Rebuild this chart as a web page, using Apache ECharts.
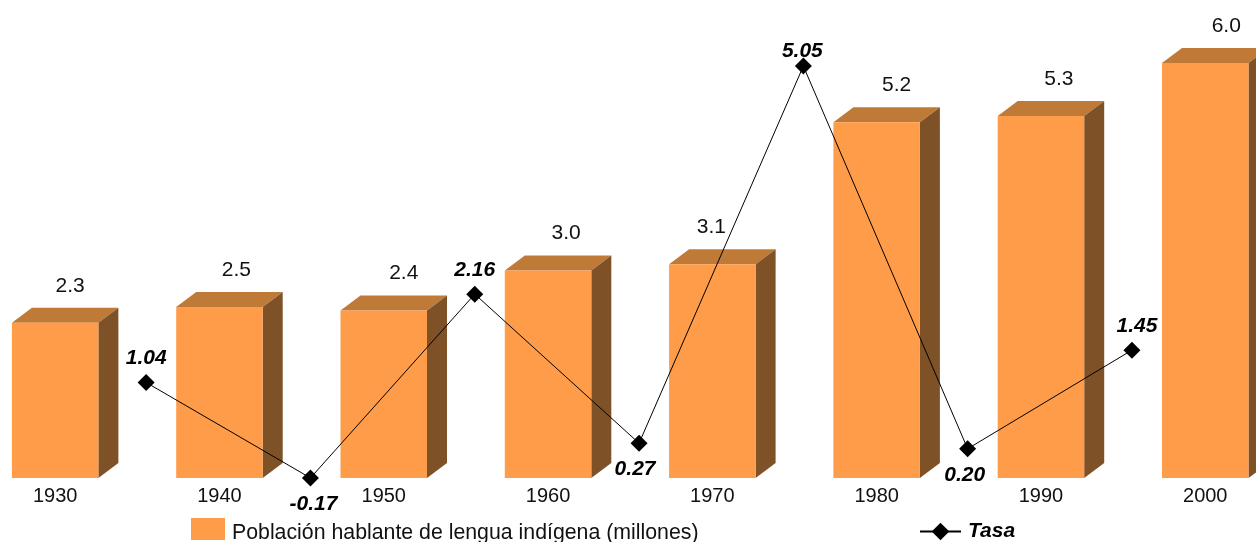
<!DOCTYPE html>
<html>
<head>
<meta charset="utf-8">
<title>Población hablante de lengua indígena</title>
<script src="https://cdn.jsdelivr.net/npm/echarts@6/dist/echarts.min.js"></script>
<style>
  html, body { margin: 0; padding: 0; background: #fff; }
  #chart { width: 1256px; height: 542px; }
</style>
</head>
<body>
<div id="chart"></div>
<script>
var years = ['1930', '1940', '1950', '1960', '1970', '1980', '1990', '2000'];
var poblacion = [2.26, 2.49, 2.44, 3.02, 3.11, 5.18, 5.27, 6.04];
var periodos = ['1930-40', '1940-50', '1950-60', '1960-70', '1970-80', '1980-90', '1990-00'];
var tasa = [1.04, -0.17, 2.16, 0.27, 5.05, 0.20, 1.45];

var fontFamily = '"Liberation Sans", Arial, sans-serif';
var nombreBarras = 'Población hablante de lengua indígena (millones)';
var nombreLinea = 'Tasa';

// ajustes de etiquetas, colocadas a mano en el original
var barLabelShift = [15, 17, 20, 18, -1, 20, 18, 21];
var tasaLabelShift = [0, 3, 0, -4, -1, -3, 5];

// barra con cara frontal, tapa y lateral
function renderBar(params, api) {
  var base = api.coord([api.value(0), 0]);
  var top = api.coord([api.value(0), api.value(1)]);
  var w = 86.5;
  var dx = 20, dy = 15;
  var x0 = base[0] - w / 2;
  var x1 = base[0] + w / 2;
  var yb = base[1];
  var yt = top[1];
  return {
    type: 'group',
    children: [
      {
        type: 'polygon',
        shape: { points: [[x0, yt], [x1, yt], [x1 + dx, yt - dy], [x0 + dx, yt - dy]] },
        style: { fill: '#BF7A38' }
      },
      {
        type: 'polygon',
        shape: { points: [[x1, yb], [x1, yt], [x1 + dx, yt - dy], [x1 + dx, yb - dy]] },
        style: { fill: '#7F5127' }
      },
      {
        type: 'rect',
        shape: { x: x0, y: yt, width: w, height: yb - yt },
        style: { fill: '#FF9C4A' }
      },
      {
        type: 'text',
        style: {
          x: base[0] + barLabelShift[params.dataIndex],
          y: yt - 37,
          text: api.value(1).toFixed(1),
          fill: '#111',
          font: '21px ' + fontFamily,
          align: 'center',
          verticalAlign: 'middle'
        }
      }
    ]
  };
}

var chart = echarts.init(document.getElementById('chart'), null, { renderer: 'canvas' });

chart.setOption({
  animation: false,
  backgroundColor: '#fff',
  grid: [
    { left: -27, width: 1314.4, top: 4, height: 474, outerBoundsMode: 'none' },
    { left: 64, width: 1150.1, top: 30.6, height: 473.4, outerBoundsMode: 'none' }
  ],
  xAxis: [
    {
      type: 'category',
      gridIndex: 0,
      data: years,
      axisLine: { show: false },
      axisTick: { show: false },
      axisLabel: { color: '#111', fontSize: 20, fontFamily: fontFamily, margin: 8, interval: 0 }
    },
    {
      type: 'category',
      gridIndex: 1,
      data: periodos,
      show: false
    }
  ],
  yAxis: [
    { type: 'value', gridIndex: 0, min: 0, max: 6.9, show: false },
    { type: 'value', gridIndex: 1, min: -0.5, max: 5.5, show: false }
  ],
  legend: [
    {
      data: [{ name: nombreBarras, icon: 'rect' }],
      left: 186,
      top: 513,
      itemWidth: 34,
      itemHeight: 22,
      formatter: '{a|{name}}',
      textStyle: {
        rich: {
          a: { color: '#111', fontSize: 21.3, fontFamily: fontFamily, padding: [8, 0, 0, 2] }
        }
      }
    },
    {
      data: [nombreLinea],
      left: 914,
      top: 516,
      itemWidth: 41,
      itemHeight: 22,
      formatter: '{a|{name}}',
      textStyle: {
        rich: {
          a: { color: '#000', fontSize: 21, fontWeight: 'bold', fontStyle: 'italic', fontFamily: fontFamily, padding: [0, 0, 0, 2] }
        }
      }
    }
  ],
  series: [
    {
      name: nombreBarras,
      type: 'custom',
      xAxisIndex: 0,
      yAxisIndex: 0,
      itemStyle: { color: '#FF9C4A' },
      renderItem: renderBar,
      encode: { x: 0, y: 1 },
      data: poblacion.map(function (v, i) { return [i, v]; }),
      z: 2
    },
    {
      name: nombreLinea,
      type: 'line',
      xAxisIndex: 1,
      yAxisIndex: 1,
      symbol: 'diamond',
      symbolSize: 17,
      showAllSymbol: true,
      lineStyle: { color: '#000', width: 1 },
      itemStyle: { color: '#000' },
      data: tasa.map(function (v, i) {
        return {
          value: v,
          label: {
            position: v < 1 ? 'bottom' : 'top',
            offset: [tasaLabelShift[i], v > 5 ? 10 : 1]
          }
        };
      }),
      label: {
        show: true,
        distance: 6,
        color: '#000',
        fontSize: 21,
        fontWeight: 'bold',
        fontStyle: 'italic',
        fontFamily: fontFamily,
        formatter: function (p) { return p.value.toFixed(2); }
      },
      z: 3
    }
  ]
});
</script>
</body>
</html>
